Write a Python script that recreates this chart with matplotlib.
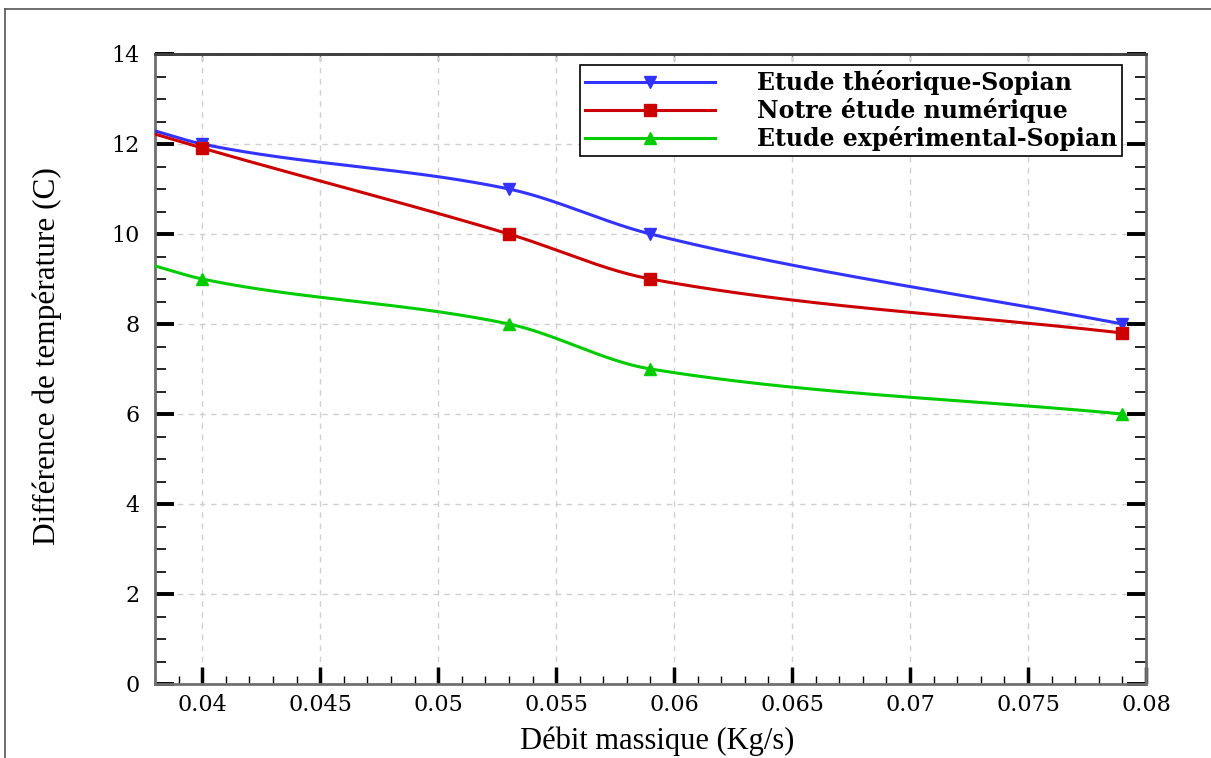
import numpy as np
import matplotlib
matplotlib.use("Agg")
import matplotlib.pyplot as plt
from matplotlib.lines import Line2D
from matplotlib.ticker import MultipleLocator, FixedLocator, NullLocator

# ---- data ----
x_vals = [0.038, 0.04, 0.053, 0.059, 0.079]
theorique_sopian = [12.29, 12.0, 11.0, 10.0, 8.0]
notre_etude = [12.22, 11.91, 10.0, 9.0, 7.8]
experimental_sopian = [9.29, 9.0, 8.0, 7.0, 6.0]
labels = ["Etude théorique-Sopian", "Notre étude numérique", "Etude expérimental-Sopian"]
x_ticks = [0.04, 0.045, 0.05, 0.055, 0.06, 0.065, 0.07, 0.075, 0.08]
x_tick_labels = ["0.04", "0.045", "0.05", "0.055", "0.06", "0.065", "0.07", "0.075", "0.08"]
y_ticks = [0, 2, 4, 6, 8, 10, 12, 14]


def pchip(x, y, xn):
    x = np.asarray(x, float); y = np.asarray(y, float)
    h = np.diff(x); d = np.diff(y) / h
    n = len(x); m = np.zeros(n)
    for k in range(1, n - 1):
        if d[k - 1] * d[k] > 0:
            w1 = 2 * h[k] + h[k - 1]; w2 = h[k] + 2 * h[k - 1]
            m[k] = (w1 + w2) / (w1 / d[k - 1] + w2 / d[k])
    m[0] = d[0]; m[-1] = d[-1]
    out = np.empty_like(xn)
    for i, xv in enumerate(xn):
        k = min(max(np.searchsorted(x, xv) - 1, 0), n - 2)
        t = (xv - x[k]) / h[k]
        h00 = 2 * t**3 - 3 * t**2 + 1; h10 = t**3 - 2 * t**2 + t
        h01 = -2 * t**3 + 3 * t**2; h11 = t**3 - t**2
        out[i] = h00 * y[k] + h10 * h[k] * m[k] + h01 * y[k + 1] + h11 * h[k] * m[k + 1]
    return out


plt.rcParams['font.family'] = ['DejaVu Serif']

fig = plt.figure(figsize=(12.11, 7.58), dpi=100)
ax = fig.add_axes([155 / 1211, 1 - 684 / 758, (1146 - 155) / 1211, (684 - 54) / 758])

series = [
    (theorique_sopian, "#3333ff", "v", 9),
    (notre_etude, "#cc0000", "s", 8.5),
    (experimental_sopian, "#00cc00", "^", 9),
]
handles = []
for (vals, col, mk, ms), lab in zip(series, labels):
    xs = np.linspace(x_vals[0], x_vals[-1], 400)
    ys = pchip(x_vals, vals, xs)
    ax.plot(xs, ys, color=col, lw=2.2, zorder=3)
    ax.plot(x_vals[1:], vals[1:], linestyle="none", marker=mk, color=col, ms=ms, zorder=4)
    handles.append(Line2D([0], [0], color=col, lw=2.2, marker=mk, ms=ms))

ax.set_xlim(0.038, 0.08)
ax.set_ylim(0, 14)
ax.xaxis.set_major_locator(FixedLocator(x_ticks))
ax.set_xticklabels(x_tick_labels)
ax.xaxis.set_minor_locator(MultipleLocator(0.001))
ax.yaxis.set_major_locator(FixedLocator(y_ticks))
ax.yaxis.set_minor_locator(MultipleLocator(0.5))

ax.grid(True, which="major", linestyle=(0, (4, 4)), color="#d0d0d0", lw=1.0, zorder=0)
ax.tick_params(axis="x", which="major", direction="in", length=12, width=2.5, color="black",
               top=False, labelsize=16, pad=7)
ax.tick_params(axis="x", which="minor", direction="in", length=6, width=1.0, color="black",
               top=False)
ax.tick_params(axis="y", which="major", direction="in", length=14, width=2.8, color="black",
               right=True, labelsize=16, pad=11)
ax.tick_params(axis="y", which="minor", direction="in", length=8, width=1.2, color="black",
               right=True)
for s in ax.spines.values():
    s.set_color("#707070")
    s.set_linewidth(2.0)
ax.spines["top"].set_color("#404040")

sec = ax.secondary_xaxis("top")
sec.xaxis.set_major_locator(FixedLocator(x_ticks))
sec.xaxis.set_minor_locator(NullLocator())
sec.tick_params(direction="in", length=5, width=1.0, color="#606060", labeltop=False)
sec.spines["top"].set_color("#404040")
sec.spines["top"].set_linewidth(2.0)

ax.set_xlabel("Débit massique (Kg/s)", fontsize=22, family="Liberation Serif")
ax.xaxis.set_label_coords(0.507, -0.068)
ax.set_ylabel("Différence de température (C)", fontsize=22.5, family="Liberation Serif")
ax.yaxis.set_label_coords(-0.094, 0.52)

leg = ax.legend(handles, labels, loc="upper right",
                bbox_to_anchor=((1122 - 155) / 991, (684 - 65) / 630),
                borderaxespad=0, fancybox=False, framealpha=1, edgecolor="black",
                prop={"family": "DejaVu Serif", "weight": "bold", "size": 17},
                handlelength=5.5, handletextpad=1.75, labelspacing=0.12,
                borderpad=0.22)
leg.get_frame().set_linewidth(1.2)

# outer figure frame
fig.add_artist(Line2D([5 / 1211, 1], [1 - 9 / 758, 1 - 9 / 758], color="#555555", lw=1.2,
                      transform=fig.transFigure))
fig.add_artist(Line2D([5 / 1211, 5 / 1211], [0, 1 - 9 / 758], color="#555555", lw=1.2,
                      transform=fig.transFigure))

fig.savefig("out.png", dpi=100)
